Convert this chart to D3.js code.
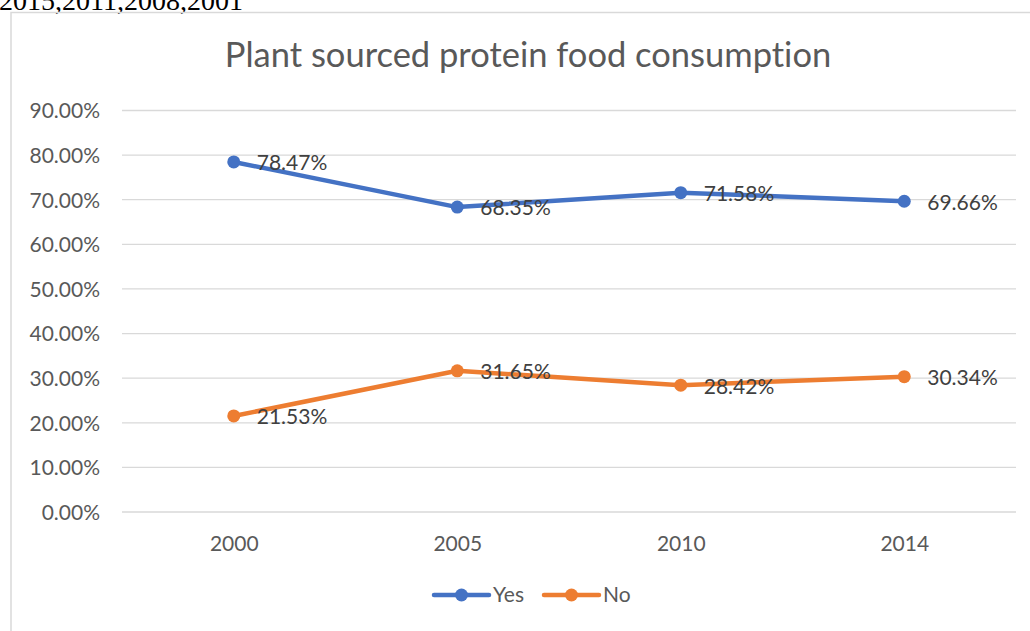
<!DOCTYPE html>
<html><head><meta charset="utf-8">
<script src="https://cdn.jsdelivr.net/npm/d3@7"></script>
<style>
html,body{margin:0;padding:0;background:#fff;overflow:hidden;}
svg{display:block;}
text{font-variant-ligatures:none;}
</style></head>
<body>
<svg id="c" width="1030" height="631"></svg>
<script>
const categories = ["2000", "2005", "2010", "2014"];
const yesValues = [0.7847, 0.6835, 0.7158, 0.6966];
const noValues = [0.2153, 0.3165, 0.2842, 0.3034];
const seriesNames = ["Yes", "No"];
const seriesColors = ["#4472C4", "#ED7D31"];
const yTicks = [0, 0.1, 0.2, 0.3, 0.4, 0.5, 0.6, 0.7, 0.8, 0.9];
const titleText = "Plant sourced protein food consumption";
const headerText = "2015,2011,2008,2001";

const svg = d3.select("#c");
const font = "Lato, 'Open Sans', sans-serif";

// header text clipped at top (as in the reference)
svg.append("text").attr("x", -1).attr("y", 10)
  .attr("font-family", "'Liberation Serif', 'Times New Roman', serif")
  .attr("font-size", 28).attr("fill", "#000").text(headerText);

// chart border
svg.append("rect").attr("x", 11).attr("y", 12.5).attr("width", 1100).attr("height", 700)
  .attr("fill", "none").attr("stroke", "#d9d9d9").attr("stroke-width", 1.5);

svg.append("text").attr("x", 528).attr("y", 67).attr("text-anchor", "middle")
  .attr("font-family", font).attr("font-size", 34.5).attr("fill", "#595959").text(titleText);

const x = d3.scalePoint().domain(categories).range([122, 1016]).padding(0.5);
const y = d3.scaleLinear().domain([0, 0.9]).range([512, 110.5]);

// gridlines
svg.append("g").selectAll("line").data(yTicks).join("line")
  .attr("x1", 122).attr("x2", 1016)
  .attr("y1", d => y(d)).attr("y2", d => y(d))
  .attr("stroke", "#d9d9d9").attr("stroke-width", 1.3);

// y axis labels
const yAxis = d3.axisLeft(y).tickValues(yTicks).tickFormat(d3.format(".2%")).tickSize(0).tickPadding(0);
const gy = svg.append("g").attr("transform", "translate(100,0)").call(yAxis);
gy.select(".domain").remove();
gy.selectAll("text").attr("font-family", font).attr("font-size", 21).attr("fill", "#595959").attr("dy", "0.35em");

// x axis labels
const xAxis = d3.axisBottom(x).tickSize(0).tickPadding(0);
const gx = svg.append("g").attr("transform", "translate(0,544)").call(xAxis);
gx.select(".domain").remove();
gx.selectAll("text").attr("font-family", font).attr("font-size", 21).attr("fill", "#595959").attr("dy", "0.35em");

const data = [yesValues, noValues];
const line = d3.line().x((d, i) => x(categories[i])).y(d => y(d));

data.forEach((vals, si) => {
  const g = svg.append("g");
  g.append("path").datum(vals).attr("d", line).attr("fill", "none")
    .attr("stroke", seriesColors[si]).attr("stroke-width", 4.5).attr("stroke-linejoin", "round").attr("stroke-linecap", "round");
  g.selectAll("circle").data(vals).join("circle")
    .attr("cx", (d, i) => x(categories[i])).attr("cy", d => y(d)).attr("r", 6.5)
    .attr("fill", seriesColors[si]);
  g.selectAll("text").data(vals).join("text")
    .attr("x", (d, i) => x(categories[i]) + 23).attr("y", d => y(d) + 1)
    .attr("dy", "0.35em")
    .attr("font-family", font).attr("font-size", 21).attr("fill", "#404040")
    .text(d => d3.format(".2%")(d));
});

// legend
const legendItems = [
  {x1: 434, x2: 489, text: 493},
  {x1: 544, x2: 599, text: 603}
];
legendItems.forEach((it, i) => {
  const g = svg.append("g");
  g.append("line").attr("x1", it.x1).attr("x2", it.x2).attr("y1", 595).attr("y2", 595)
    .attr("stroke", seriesColors[i]).attr("stroke-width", 4.5).attr("stroke-linecap", "round");
  g.append("circle").attr("cx", (it.x1 + it.x2) / 2).attr("cy", 595).attr("r", 6.5).attr("fill", seriesColors[i]);
  g.append("text").attr("x", it.text).attr("y", 595).attr("dy", "0.35em")
    .attr("font-family", font).attr("font-size", 21).attr("fill", "#595959").text(seriesNames[i]);
});
</script>
</body></html>
